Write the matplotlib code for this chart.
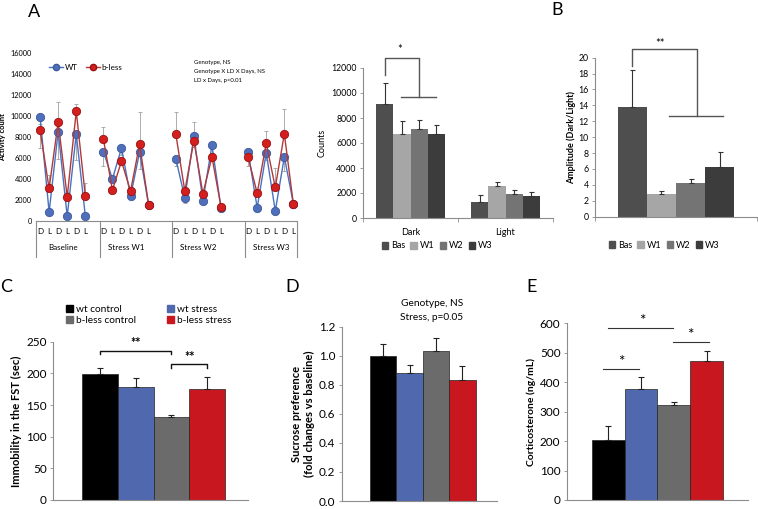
import matplotlib
matplotlib.use('Agg')
import matplotlib.pyplot as plt
import numpy as np
from matplotlib.patches import Patch
from matplotlib.lines import Line2D

plt.rcParams['font.family'] = ['Lato', 'DejaVu Sans']

# ---------------- data ----------------
phases = ['D', 'L', 'D', 'L', 'D', 'L']
groups = ['Baseline', 'Stress W1', 'Stress W2', 'Stress W3']
wt_activity = [9950, 850, 8500, 450, 8300, 500,
               6600, 4000, 6950, 2350, 6550, 1500,
               5950, 2200, 8050, 1950, 7200, 1250,
               6600, 1250, 6500, 950, 6100, 1650]
wt_err = [2950, 300, 2600, 200, 2450, 200,
          1400, 300, 650, 200, 1550, 200,
          750, 500, 1000, 300, 700, 200,
          1400, 300, 700, 300, 1300, 300]
bless_activity = [8650, 3100, 9400, 2300, 10450, 2400,
                  7800, 2950, 5700, 2850, 7300, 1550,
                  8300, 2850, 7650, 2600, 6100, 1350,
                  6050, 2650, 7400, 3200, 8300, 1600]
bless_err = [600, 1300, 1900, 500, 700, 1200,
             1150, 300, 400, 300, 3100, 200,
             2100, 300, 1750, 300, 300, 200,
             400, 300, 1200, 1850, 2400, 200]
stats_text_a = ['Genotype, NS', 'Genotype X LD X Days, NS', 'LD x Days, p<0.01']

periods = ['Bas', 'W1', 'W2', 'W3']
phase_names = ['Dark', 'Light']
counts_dark = [9100, 6750, 7150, 6700]
counts_dark_err = [1700, 1000, 700, 750]
counts_light = [1300, 2550, 1900, 1730]
counts_light_err = [520, 350, 320, 350]

amplitude = [13.8, 2.8, 4.2, 6.2]
amplitude_err = [4.6, 0.4, 0.6, 1.9]

cond = ['wt control', 'wt stress', 'b-less control', 'b-less stress']
fst = [199, 178, 131, 175]
fst_err = [10, 14, 3, 20]
sucrose = [1.00, 0.88, 1.035, 0.83]
sucrose_err = [0.08, 0.055, 0.085, 0.10]
cort = [204, 378, 324, 473]
cort_err = [48, 41, 10, 33]
stats_text_d = ['Genotype, NS', 'Stress, p=0.05']

# ---------------- style ----------------
period_colors = ['#4e4e4e', '#a6a6a6', '#747474', '#3c3c3c']
cond_colors = ['#000000', '#5068ad', '#6b6b6b', '#c8171e']
axis_gray = '#8c8c8c'

W, H = 758, 509
fig = plt.figure(figsize=(W / 100, H / 100), dpi=100)


def rect(x0, x1, ytop, ybot):
    return [x0 / W, 1 - ybot / H, (x1 - x0) / W, (ybot - ytop) / H]


def ftext(x, y, s, **kw):
    fig.text(x / W, 1 - y / H, s, **kw)


def style_axes(ax, fs):
    for s in ['top', 'right']:
        ax.spines[s].set_visible(False)
    for s in ['left', 'bottom']:
        ax.spines[s].set_color(axis_gray)
        ax.spines[s].set_linewidth(0.8)
    ax.tick_params(axis='y', length=2.5, width=0.6, color=axis_gray, labelsize=fs, pad=2)


# ---------------- Panel A (line) ----------------
axA = fig.add_axes(rect(36, 297, 53, 221))
group_start = [0, 7, 15, 23]
xs = []
for g in range(len(groups)):
    xs.extend([group_start[g] + j for j in range(len(phases))])
xs = np.array(xs)
wt_a = np.array(wt_activity)
bl_a = np.array(bless_activity)
for g in range(len(groups)):
    sl = slice(g * 6, g * 6 + 6)
    axA.errorbar(xs[sl], wt_a[sl], yerr=[np.array(wt_err)[sl], np.zeros(6)], fmt='none',
                 ecolor='#a0a0a0', elinewidth=0.6, capsize=1.5, capthick=0.6, zorder=1)
    axA.errorbar(xs[sl], bl_a[sl], yerr=[np.zeros(6), np.array(bless_err)[sl]], fmt='none',
                 ecolor='#a0a0a0', elinewidth=0.6, capsize=1.5, capthick=0.6, zorder=1)
    axA.plot(xs[sl], wt_a[sl], '-o', color='#4a72c0', lw=1.0, ms=6, mfc='#4f6fbd',
             mec='#3b5a9a', mew=0.6, zorder=3)
    axA.plot(xs[sl], bl_a[sl], '-o', color='#b03a3a', lw=1.0, ms=6, mfc='#d41f1f',
             mec='#9a1010', mew=0.6, zorder=4)
axA.set_xlim(-0.45, 28.4)
axA.set_ylim(0, 16000)
axA.set_yticks(np.arange(0, 16001, 2000))
axA.spines['top'].set_visible(False)
axA.spines['right'].set_visible(False)
axA.spines['left'].set_visible(False)
axA.spines['bottom'].set_color(axis_gray)
axA.tick_params(axis='y', length=0, labelsize=5.3, pad=3)
axA.set_xticks([])
axA.set_ylabel('Activity count', fontsize=5.5, fontweight='bold', labelpad=3)
trA = axA.get_xaxis_transform()
hA = 168.0
for g in range(len(groups)):
    for j, p in enumerate(phases):
        axA.text(group_start[g] + j, -11 / hA, p, transform=trA, ha='center', va='center', fontsize=5.8)
    axA.text(group_start[g] + 2.5, -27 / hA, groups[g], transform=trA, ha='center', va='center', fontsize=5.8)
for sx in [-0.45, 6.6, 14.6, 22.6, 28.4]:
    axA.plot([sx, sx], [0, -36 / hA], transform=trA, color=axis_gray, lw=0.8, clip_on=False)
handlesA = [Line2D([], [], color='#4a72c0', marker='o', ms=4.5, mfc='#4f6fbd', mec='#3b5a9a', lw=1.0),
            Line2D([], [], color='#b03a3a', marker='o', ms=4.5, mfc='#d41f1f', mec='#9a1010', lw=1.0)]
axA.legend(handlesA, ['WT', 'b-less'], loc='center', bbox_to_anchor=(0.19, 0.915), ncol=2,
           frameon=False, fontsize=5.8, handlelength=1.8, columnspacing=1.0, handletextpad=0.2)
for i, s in enumerate(stats_text_a):
    axA.text(0.605, 0.945 - i * 0.055, s, transform=axA.transAxes, fontsize=4.3, ha='left', va='center')
ftext(34, 12, 'A', fontsize=13, ha='center', va='center')

# ---------------- Panel A (bars) ----------------
axAb = fig.add_axes(rect(363, 553, 68, 218))
bw = 0.18
dark_x = 0.5 + (np.arange(4) - 1.5) * bw
light_x = 1.5 + (np.arange(4) - 1.5) * bw
for i in range(4):
    axAb.bar(dark_x[i], counts_dark[i], bw, color=period_colors[i], zorder=2)
    axAb.bar(light_x[i], counts_light[i], bw, color=period_colors[i], zorder=2)
axAb.errorbar(dark_x, counts_dark, yerr=[np.zeros(4), counts_dark_err], fmt='none',
              ecolor='#333333', elinewidth=0.8, capsize=1.8, capthick=0.8, zorder=3)
axAb.errorbar(light_x, counts_light, yerr=[np.zeros(4), counts_light_err], fmt='none',
              ecolor='#333333', elinewidth=0.8, capsize=1.8, capthick=0.8, zorder=3)
axAb.set_xlim(0, 2)
axAb.set_ylim(0, 12000)
axAb.set_yticks(np.arange(0, 12001, 2000))
style_axes(axAb, 6.3)
axAb.set_xticks([0, 1, 2])
axAb.set_xticklabels([])
axAb.tick_params(axis='x', which='major', length=3, width=0.6, color=axis_gray)
axAb.set_xticks([0.5, 1.5], minor=True)
axAb.set_xticklabels(phase_names, minor=True, fontsize=6.5)
axAb.tick_params(axis='x', which='minor', length=0, pad=7)
axAb.set_ylabel('Counts', fontsize=6.5, labelpad=3)
bl = dict(color='#555555', lw=1.0, clip_on=False)
axAb.plot([dark_x[0], dark_x[0], 0.59, 0.59], [11400, 12800, 12800, 9700], **bl)
axAb.plot([0.40, 0.77], [9700, 9700], **bl)
axAb.text(0.385, 13000, '*', ha='center', va='bottom', fontsize=8)
handlesP = [Patch(color=c) for c in period_colors]
fig.legend(handlesP, periods, loc='center', bbox_to_anchor=(437 / W, 1 - 246 / H), ncol=4,
           frameon=False, fontsize=6.5, handlelength=0.7, handleheight=0.7, handletextpad=0.3,
           columnspacing=0.6)

# ---------------- Panel B ----------------
axB = fig.add_axes(rect(595, 757, 57.7, 216.7))
bxB = 0.5 + (np.arange(4) - 1.5) * bw
axB.bar(bxB, amplitude, bw, color=period_colors, zorder=2)
axB.errorbar(bxB, amplitude, yerr=[np.zeros(4), amplitude_err], fmt='none',
             ecolor='#333333', elinewidth=0.8, capsize=1.8, capthick=0.8, zorder=3)
axB.set_xlim(0, 1)
axB.set_ylim(0, 20)
axB.set_yticks(np.arange(0, 21, 2))
style_axes(axB, 6.3)
axB.set_xticks([0, 1])
axB.set_xticklabels([])
axB.tick_params(axis='x', length=3, width=0.6, color=axis_gray)
axB.set_ylabel('Amplitude (Dark/Light)', fontsize=6.5, fontweight='bold', labelpad=2)
axB.plot([bxB[0], bxB[0], 0.628, 0.628], [19.0, 21.1, 21.1, 12.7], **bl)
axB.plot([0.457, 0.788], [12.7, 12.7], **bl)
axB.text(0.40, 21.1, '**', ha='center', va='bottom', fontsize=8)
fig.legend(handlesP, periods, loc='center', bbox_to_anchor=(664 / W, 1 - 245 / H), ncol=4,
           frameon=False, fontsize=6.5, handlelength=0.7, handleheight=0.7, handletextpad=0.3,
           columnspacing=0.6)
ftext(557, 10, 'B', fontsize=13, ha='center', va='center')

# ---------------- Panel C ----------------
idx = np.arange(4)
axC = fig.add_axes(rect(53, 248, 341.7, 500))
axC.bar(idx, fst, 1.0, color=cond_colors, edgecolor='#222222', linewidth=0.5, zorder=2)
axC.errorbar(idx, fst, yerr=[np.zeros(4), fst_err], fmt='none', ecolor='#222222',
             elinewidth=0.8, capsize=2.5, capthick=0.8, zorder=3)
axC.set_xlim(-1.31, 4.14)
axC.set_ylim(0, 250)
axC.set_yticks(np.arange(0, 251, 50))
style_axes(axC, 8.5)
axC.set_xticks([])
axC.set_ylabel('Immobility in the FST (sec)', fontsize=8, fontweight='bold', labelpad=3)
bk = dict(color='#111111', lw=1.0, clip_on=False)
axC.plot([0, 0, 2, 2], [231, 236, 236, 231], **bk)
axC.plot([2, 2, 3, 3], [209, 214, 214, 209], **bk)
axC.text(1.0, 238, '**', ha='center', va='bottom', fontsize=9, fontweight='bold')
axC.text(2.5, 216, '**', ha='center', va='bottom', fontsize=9, fontweight='bold')
handlesC = [Patch(color=c) for c in cond_colors]
order = [0, 2, 1, 3]
axC.legend([handlesC[i] for i in order], [cond[i] for i in order], loc='center',
           bbox_to_anchor=(0.49, 1.17), ncol=2, frameon=False, fontsize=7.3,
           handlelength=0.7, handleheight=0.7, handletextpad=0.3, columnspacing=3.0,
           labelspacing=0.2)
ftext(6, 287, 'C', fontsize=13, ha='center', va='center')

# ---------------- Panel D ----------------
axD = fig.add_axes(rect(341.7, 496.7, 326.7, 501))
axD.bar(idx, sucrose, 1.0, color=cond_colors, edgecolor='#222222', linewidth=0.5, zorder=2)
axD.errorbar(idx, sucrose, yerr=[np.zeros(4), sucrose_err], fmt='none', ecolor='#222222',
             elinewidth=0.8, capsize=2.5, capthick=0.8, zorder=3)
axD.set_xlim(-1.57, 4.3)
axD.set_ylim(0, 1.2)
axD.set_yticks(np.arange(0, 1.21, 0.2))
axD.set_yticklabels(['%.1f' % v for v in np.arange(0, 1.21, 0.2)])
style_axes(axD, 8.5)
axD.set_xticks([])
axD.set_ylabel('Sucrose preference\n(fold changes vs baseline)', fontsize=8,
               fontweight='bold', labelpad=3)
ftext(431.7, 303, stats_text_d[0], fontsize=7.3, ha='center', va='center')
ftext(431.7, 318, stats_text_d[1], fontsize=7.3, ha='center', va='center')
ftext(292, 287, 'D', fontsize=13, ha='center', va='center')

# ---------------- Panel E ----------------
axE = fig.add_axes(rect(566.7, 748, 323.3, 500))
axE.bar(idx, cort, 1.0, color=cond_colors, edgecolor='#222222', linewidth=0.5, zorder=2)
axE.errorbar(idx, cort, yerr=[np.zeros(4), cort_err], fmt='none', ecolor='#222222',
             elinewidth=0.8, capsize=2.5, capthick=0.8, zorder=3)
axE.set_xlim(-1.26, 4.26)
axE.set_ylim(0, 600)
axE.set_yticks(np.arange(0, 601, 100))
style_axes(axE, 8.5)
axE.set_xticks([])
axE.set_ylabel('Corticosterone (ng/mL)', fontsize=7.5, fontweight='bold', labelpad=3)
lk = dict(color='#333333', lw=0.8, clip_on=False)
axE.plot([-0.16, 0.94], [445, 445], **lk)
axE.plot([0.0, 1.97], [583, 583], **lk)
axE.plot([1.98, 3.08], [536, 536], **lk)
axE.text(0.4, 446, '*', ha='center', va='bottom', fontsize=11)
axE.text(1.03, 584, '*', ha='center', va='bottom', fontsize=11)
axE.text(2.5, 537, '*', ha='center', va='bottom', fontsize=11)
ftext(532, 287, 'E', fontsize=13, ha='center', va='center')

fig.savefig('out.png', dpi=100)
